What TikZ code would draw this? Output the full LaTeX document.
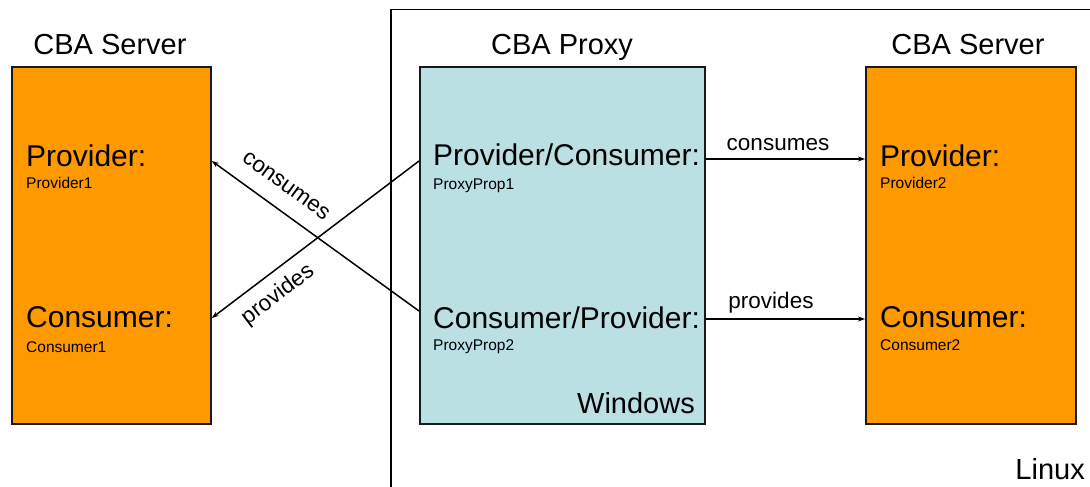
\documentclass[tikz,border=0pt]{standalone}
\usepackage{fontspec}
\setmainfont{Liberation Sans}
\usetikzlibrary{arrows.meta}
\definecolor{srvorange}{HTML}{FF9900}
\definecolor{proxyblue}{HTML}{BBE0E3}

\begin{document}
\begin{tikzpicture}[x=1pt,y=-1pt,
  box/.style={draw=black!90, line width=1.8pt, inner sep=0pt, anchor=north west},
  title/.style={inner sep=0pt, anchor=base, font=\fontsize{29}{32}\selectfont},
  role/.style={inner sep=0pt, anchor=base west, font=\fontsize{30}{33}\selectfont},
  inst/.style={inner sep=0pt, anchor=base west, font=\fontsize{15.5}{17}\selectfont},
  lbl/.style={inner sep=0pt, font=\fontsize{22.5}{25}\selectfont},
  link/.style={line width=1.5pt, -{Stealth[length=7pt,width=5pt]}},
]
\useasboundingbox (0,0) rectangle (1090,487);

% Linux host frame
\draw[line width=1.5pt] (391,487) -- (391,9.5) -- (1090,9.5);
\node[inner sep=0pt, anchor=base east, font=\fontsize{29}{32}\selectfont] (linux) at (1085,479) {Linux};

% component boxes
\node[box, fill=srvorange, minimum width=199pt, minimum height=357pt] (srvL) at (11,66) {};
\node[box, fill=proxyblue, minimum width=285pt, minimum height=357pt] (proxy) at (419,66) {};
\node[box, fill=srvorange, minimum width=210pt, minimum height=357pt] (srvR) at (865,66) {};

% titles
\node[title] (tL) at (110,55) {CBA Server};
\node[title] (tP) at (562,55) {CBA Proxy};
\node[title] (tR) at (968,55) {CBA Server};

% left server contents
\node[role] (lprov) at (26,166) {Provider:};
\node[inst] (lprov1) at (26,188) {Provider1};
\node[role] (lcons) at (26,327) {Consumer:};
\node[inst] (lcons1) at (26,352) {Consumer1};

% proxy contents
\node[role] (pprov) at (433,165) {Provider/Consumer:};
\node[inst] (pprov1) at (433,189) {ProxyProp1};
\node[role] (pcons) at (433,328) {Consumer/Provider:};
\node[inst] (pcons1) at (433,350) {ProxyProp2};
\node[inst, anchor=base east, font=\fontsize{29}{32}\selectfont] (win) at (695,413) {Windows};

% right server contents
\node[role] (rprov) at (880,166) {Provider:};
\node[inst] (rprov1) at (880,188) {Provider2};
\node[role] (rcons) at (880,327) {Consumer:};
\node[inst] (rcons1) at (880,350) {Consumer2};

% connector end points on the box edges
\coordinate (pA) at (proxy.west |- 0,161);
\coordinate (pB) at (proxy.west |- 0,311);
\coordinate (lA) at (srvL.east |- 0,161);
\coordinate (lB) at (srvL.east |- 0,318);
\coordinate (pC) at (proxy.east |- 0,159);
\coordinate (pD) at (proxy.east |- 0,319);
\coordinate (rC) at (srvR.west |- 0,159);
\coordinate (rD) at (srvR.west |- 0,319);

% crossing links to the left server
\draw[link] (pB) -- (lA);
\draw[link] (pA) -- (lB);
\node[lbl, rotate=-36] (consL) at (286,186) {consumes};
\node[lbl, rotate=37] (provL) at (278,295) {provides};

% links to the right server
\draw[link] (pC) -- (rC);
\draw[link] (pD) -- (rD);
\node[lbl, anchor=base] (consR) at (778,150) {consumes};
\node[lbl, anchor=base] (provR) at (771,308) {provides};
\end{tikzpicture}
\end{document}
